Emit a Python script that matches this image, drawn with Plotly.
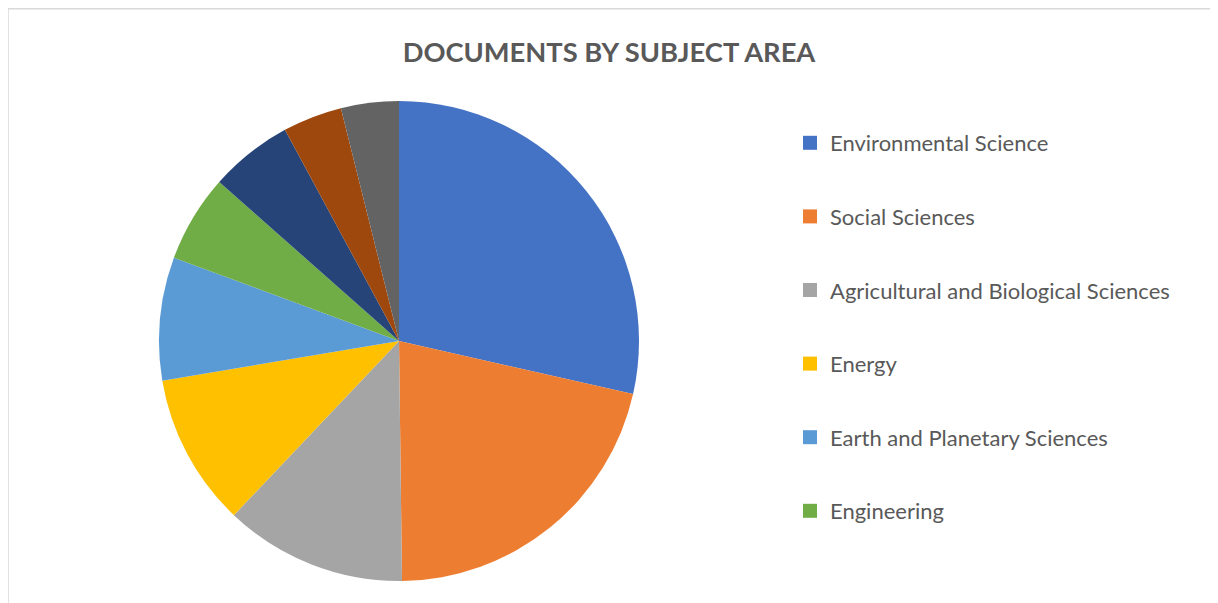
import plotly.graph_objects as go

W, H = 1210, 595  # page body has an 8px margin inside the 1218x603 window

subjects = [
    "Environmental Science",
    "Social Sciences",
    "Agricultural and Biological Sciences",
    "Energy",
    "Earth and Planetary Sciences",
    "Engineering",
    "Economics, Econometrics and Finance",
    "Business, Management and Accounting",
    "Medicine",
]
shares = [28.6, 21.3, 12.3, 10.3, 8.3, 5.9, 5.6, 4.0, 3.9]
colors = ["#4472C4", "#ED7D31", "#A5A5A5", "#FFC000", "#5B9BD5",
          "#70AD47", "#264478", "#9E480E", "#636363"]
legend_shown = 6  # the legend box only has room for the first six entries

title_text = "DOCUMENTS BY SUBJECT AREA"

# pie geometry in figure pixels
cx, cy, r = 391, 333, 240

fig = go.Figure()
fig.add_trace(go.Pie(
    labels=subjects,
    values=shares,
    sort=False,
    direction="clockwise",
    rotation=0,
    marker=dict(colors=colors, line=dict(width=0)),
    textinfo="none",
    showlegend=False,
    domain=dict(x=[(cx - r) / W, (cx + r) / W],
                y=[1 - (cy + r) / H, 1 - (cy - r) / H]),
))

for name, col in zip(subjects[:legend_shown], colors[:legend_shown]):
    fig.add_trace(go.Scatter(
        x=[None], y=[None], mode="markers", name=name,
        legendgroup=name,
        marker=dict(symbol="square", size=14, color=col),
    ))

fig.update_layout(
    width=W, height=H,
    margin=dict(l=0, r=0, t=0, b=0),
    paper_bgcolor="white", plot_bgcolor="white",
    xaxis=dict(visible=False), yaxis=dict(visible=False),
    title=dict(text="<b>" + title_text + "</b>", x=601 / W, xanchor="center",
               y=1 - 44 / H, yanchor="middle",
               font=dict(family="Lato", size=27.3, color="#595959")),
    legend=dict(x=782 / W, y=1 - 114 / H, xanchor="left", yanchor="top",
                font=dict(family="Lato", size=22, color="#595959"),
                tracegroupgap=42, itemwidth=30,
                bgcolor="rgba(0,0,0,0)"),
    shapes=[dict(type="rect", xref="paper", yref="paper",
                 x0=0, x1=1.01, y0=-0.01, y1=1 - 0.75 / H,
                 line=dict(color="#D9D9D9", width=1.5))],
)

fig.write_html("out.html")
